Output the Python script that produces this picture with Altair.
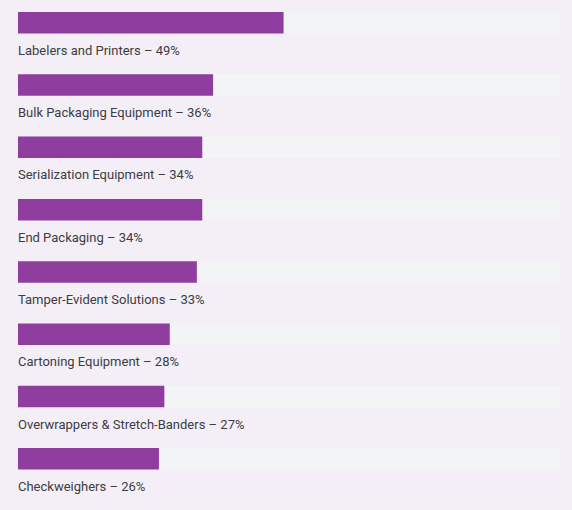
import altair as alt
import pandas as pd

categories = [
    "Labelers and Printers",
    "Bulk Packaging Equipment",
    "Serialization Equipment",
    "End Packaging",
    "Tamper-Evident Solutions",
    "Cartoning Equipment",
    "Overwrappers & Stretch-Banders",
    "Checkweighers",
]
values = [49, 36, 34, 34, 33, 28, 27, 26]

df = pd.DataFrame({
    "cat": categories,
    "value": values,
    "full": [100] * len(values),
    "zero": [0] * len(values),
    "label": [f"{c} \u2013 {v}%" for c, v in zip(categories, values)],
})

xs = alt.Scale(domain=[0, 100], range=[18, 560])
ys = alt.Scale(range=[12, 469.6], paddingInner=0.655, paddingOuter=0)
Y = alt.Y("cat:N", sort=categories, scale=ys, axis=None)
X0 = alt.X("zero:Q", scale=xs, axis=None)

base = alt.Chart(df)

shadows = []
for k in [2, 5, 9, 14]:
    shadows.append(
        base.mark_bar(color="#a898b0", opacity=0.08, size=18.75 + k,
                      yOffset=(2.75 + k) / 2, cornerRadius=3).encode(
            x=X0, x2=alt.value(563), y=Y,
        )
    )
track = base.mark_bar(color="#f3f4f6").encode(x=X0, x2="full:Q", y=Y)
bar = base.mark_bar(color="#8f3d9f").encode(x=X0, x2="value:Q", y=Y)
text = base.mark_text(
    align="left", baseline="alphabetic", dy=32, fontSize=13,
    font="Roboto", color="#3c3c44",
).encode(x=X0, y=Y, text="label:N")

chart = alt.layer(*shadows, track, bar, text).properties(
    width=572, height=510, background="#f4eff6",
    autosize=alt.AutoSizeParams(type="none"), padding=0,
).configure_view(stroke=None)

chart.save("out.html", embed_options={"renderer": "svg", "actions": False})
